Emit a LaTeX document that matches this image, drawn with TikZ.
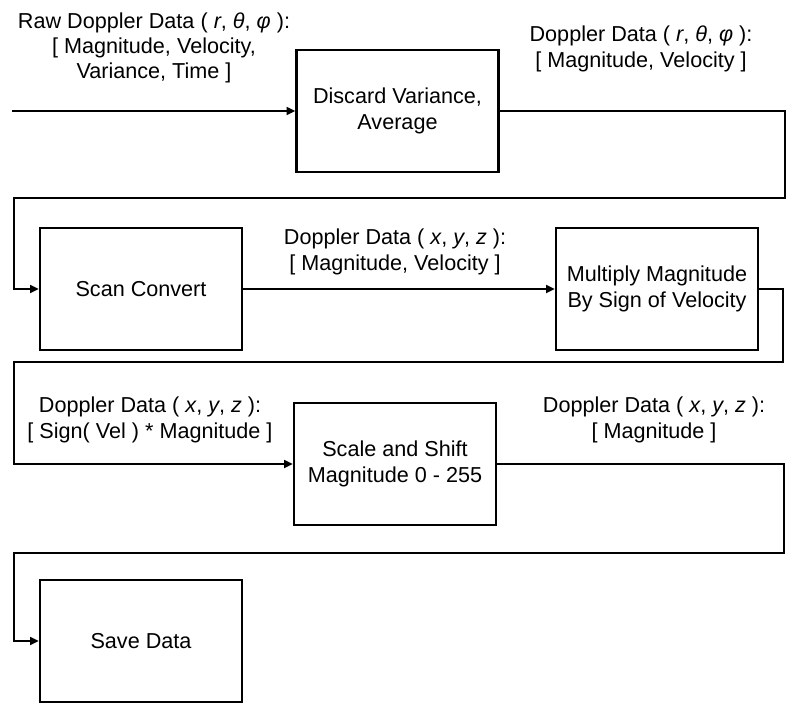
\documentclass[tikz,border=0pt]{standalone}
\usepackage{fontspec}
\setmainfont{Liberation Sans}
\usetikzlibrary{arrows.meta}

\begin{document}
\begin{tikzpicture}[x=0.02cm,y=-0.02cm]
\tikzstyle{box} = [draw, line width=1.3pt, minimum width=4.04cm, minimum height=2.44cm, align=center, inner sep=0, font=\fontsize{12.3}{14.4}\selectfont]
\tikzstyle{lbl} = [align=center, inner sep=0, font=\fontsize{12.3}{14.4}\selectfont]
\tikzstyle{flow} = [line width=1.1pt, -{Triangle[length=5pt,width=4.5pt]}]

\useasboundingbox (0,0) rectangle (800,713);

\node[box] (discard) at (397.5,111) {Discard Variance,\\Average};
\node[box] (scan) at (141,289) {Scan Convert};
\node[box] (multiply) at (657,289) {Multiply Magnitude\\By Sign of Velocity};
\node[box] (scale) at (395,464) {Scale and Shift\\Magnitude 0 - 255};
\node[box] (save) at (141,641) {Save Data};

\coordinate (in) at (12,111);

\node[lbl] (raw) at (154,48) {Raw Doppler Data ( \textit{r}, \textit{θ}, \textit{φ} ):\\{}[ Magnitude, Velocity,\\Variance, Time ]};
\node[lbl] (sph) at (641,49) {Doppler Data ( \textit{r}, \textit{θ}, \textit{φ} ):\\{}[ Magnitude, Velocity ]};
\node[lbl] (cart) at (395,252) {Doppler Data ( \textit{x}, \textit{y}, \textit{z} ):\\{}[ Magnitude, Velocity ]};
\node[lbl] (sign) at (150,420) {Doppler Data ( \textit{x}, \textit{y}, \textit{z} ):\\{}[ Sign( Vel ) * Magnitude ]};
\node[lbl] (mag) at (654,420) {Doppler Data ( \textit{x}, \textit{y}, \textit{z} ):\\{}[ Magnitude ]};

\draw[flow] (in) -- (discard);
\draw[flow] (discard.east) -| (785,198) -| (14,289) -- (scan.west);
\draw[flow] (scan) -- (multiply);
\draw[flow] (multiply.east) -| (783,362) -| (14,464) -- (scale.west);
\draw[flow] (scale.east) -| (784,553) -| (14,641) -- (save.west);

\end{tikzpicture}
\end{document}
